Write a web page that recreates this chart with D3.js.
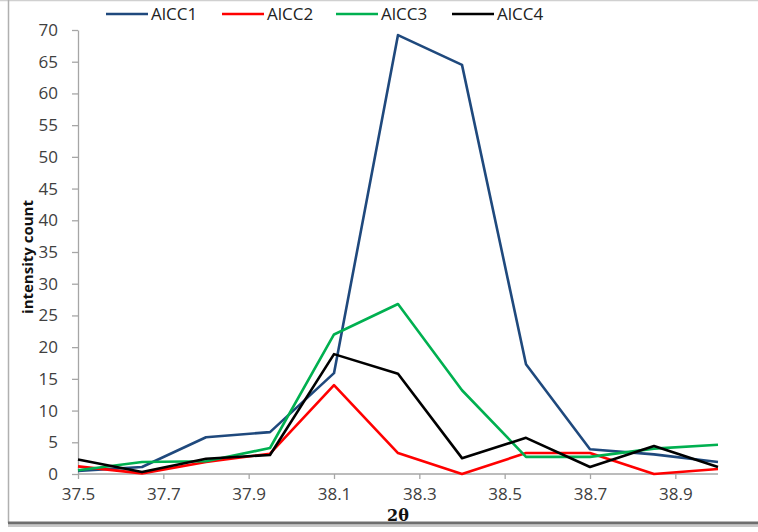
<!DOCTYPE html>
<html><head><meta charset="utf-8">
<script src="https://cdn.jsdelivr.net/npm/d3@7"></script>
<style>
html,body{margin:0;padding:0;background:#fff;}
text{font-family:"Open Sans","Liberation Sans",sans-serif;}
</style></head>
<body>
<svg id="c" width="758" height="532"></svg>
<script>
const xValues = [37.5, 37.65, 37.8, 37.95, 38.1, 38.25, 38.4, 38.55, 38.7, 38.85, 39.0];
const seriesNames = ["AlCC1", "AlCC2", "AlCC3", "AlCC4"];
const seriesColors = ["#1f497d", "#ff0000", "#00b050", "#000000"];
const alcc1 = [0.5, 1.1, 5.8, 6.6, 15.9, 69.2, 64.5, 17.3, 3.9, 3.1, 1.9];
const alcc2 = [1.2, 0.1, 1.9, 3.2, 14.0, 3.3, 0.0, 3.3, 3.3, 0.0, 0.8];
const alcc3 = [0.6, 1.9, 2.0, 4.1, 22.0, 26.8, 13.2, 2.7, 2.7, 4.0, 4.6];
const alcc4 = [2.3, 0.3, 2.4, 3.0, 18.9, 15.8, 2.5, 5.7, 1.1, 4.4, 1.1];
const xTicks = [37.5, 37.7, 37.9, 38.1, 38.3, 38.5, 38.7, 38.9];
const yTicks = [0, 5, 10, 15, 20, 25, 30, 35, 40, 45, 50, 55, 60, 65, 70];
const seriesData = [alcc1, alcc2, alcc3, alcc4];

const svg = d3.select("#c");
// outer frame
svg.append("line").attr("x1",0).attr("x2",758).attr("y1",0.5).attr("y2",0.5).attr("stroke","#d0d0d0").attr("stroke-width",1.5);
svg.append("line").attr("x1",8.5).attr("x2",8.5).attr("y1",0).attr("y2",523).attr("stroke","#b0b0b0").attr("stroke-width",1.5);
svg.append("line").attr("x1",8).attr("x2",758).attr("y1",523).attr("y2",523).attr("stroke","#6e6e6e").attr("stroke-width",3);
svg.append("line").attr("x1",8).attr("x2",758).attr("y1",526).attr("y2",526).attr("stroke","#c8c8c8").attr("stroke-width",2);

const x = d3.scaleLinear().domain([37.5, 39.0]).range([78, 718]);
const y = d3.scaleLinear().domain([0, 70]).range([474, 30]);

const xAxis = svg.append("g").attr("transform","translate(0,474)")
  .call(d3.axisBottom(x).tickValues(xTicks).tickFormat(d3.format(".1f")).tickSize(5).tickSizeOuter(0));
xAxis.select(".domain").attr("d","M78,0H718").attr("stroke","#a6a6a6").attr("stroke-width",1.3);
xAxis.selectAll(".tick line").attr("stroke","#a6a6a6").attr("stroke-width",1.3);
xAxis.selectAll(".tick text").attr("font-size",17).attr("fill","#404040").attr("y",14).attr("dy","0.71em");

const yAxis = svg.append("g").attr("transform","translate(78,0)")
  .call(d3.axisLeft(y).tickValues(yTicks).tickSize(6).tickSizeOuter(0));
yAxis.select(".domain").attr("stroke","#a6a6a6").attr("stroke-width",1.3);
yAxis.selectAll(".tick line").attr("stroke","#a6a6a6").attr("stroke-width",1.3);
yAxis.selectAll(".tick text").attr("font-size",17).attr("fill","#404040").attr("x",-20);

// series lines
const line = d3.line().x((d,i)=>x(xValues[i])).y(d=>y(d));
seriesData.forEach((s,k)=>{
  svg.append("path").datum(s).attr("d",line).attr("fill","none")
    .attr("stroke",seriesColors[k]).attr("stroke-width",2.6).attr("stroke-linejoin","round");
});

// axis titles
svg.append("text").attr("transform","translate(33,257) rotate(-90)").attr("text-anchor","middle")
  .attr("font-size",15).attr("font-weight","bold").attr("fill","#111").text("intensity count");
svg.append("text").attr("x",398).attr("y",521).attr("text-anchor","middle")
  .style("font-family","'DejaVu Serif','Liberation Serif',serif")
  .attr("font-size",16).attr("font-weight","bold").attr("fill","#111").text("2θ");

// legend
const legendX = [106, 222, 336, 452];
seriesNames.forEach((n,k)=>{
  const g = svg.append("g").attr("transform",`translate(${legendX[k]},14)`);
  g.append("line").attr("x1",0).attr("x2",42).attr("y1",0).attr("y2",0).attr("stroke",seriesColors[k]).attr("stroke-width",2.6);
  g.append("text").attr("x",45).attr("y",6).attr("font-size",17).attr("fill","#222").text(n);
});
</script>
</body></html>
